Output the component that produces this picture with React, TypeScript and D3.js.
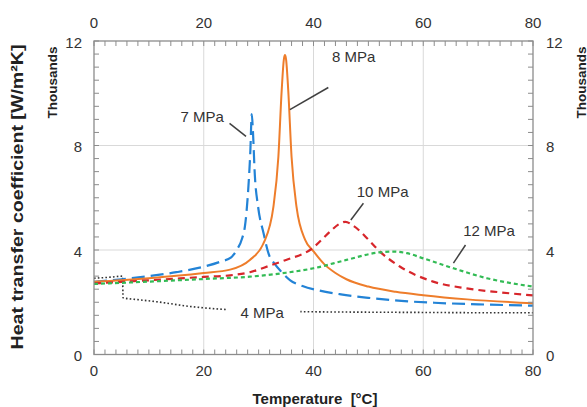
import React from "react";
import * as d3 from "d3";

const W = 587;
const H = 407;
const X0 = 94, X1 = 533, Y0 = 354.5, Y1 = 41;

const xTickMajor = [0, 20, 40, 60, 80];
const yTickMajor = [0, 4, 8, 12];
const xGrid = [20, 40, 60];
const yGrid = [4, 8];

// temperature [°C] and heat transfer coefficient [thousand W/m²K]
const t4 = [0, 3, 5.2, 5.3, 8, 11.4, 17.5, 23.5, 30, 38, 50, 60, 70, 80];
const v4 = [2.92, 2.96, 3.0, 2.17, 2.1, 2.02, 1.84, 1.73, 1.68, 1.64, 1.62, 1.61, 1.6, 1.6];

const t7 = [0, 5, 10, 15, 20, 23, 25, 26, 27, 27.5, 28.1, 28.5, 28.75, 28.95, 29.3, 29.9, 30.9, 31.8, 33, 34, 35.7, 38, 41, 45, 50, 56, 62, 70, 80];
const v7 = [2.78, 2.88, 3.0, 3.15, 3.36, 3.55, 3.72, 4.0, 4.45, 4.9, 6.3, 7.83, 9.2, 8.6, 6.9, 5.66, 4.64, 3.87, 3.45, 3.2, 2.85, 2.62, 2.45, 2.3, 2.17, 2.05, 1.98, 1.92, 1.87];

const t8 = [0, 5, 10, 15, 20, 24.8, 28.4, 30.9, 32.7, 33.6, 34.2, 34.6, 34.8, 35.0, 35.4, 36.0, 36.9, 38.5, 40, 42, 44, 46, 50, 55, 60, 68, 80];
const v8 = [2.78, 2.84, 2.92, 3.01, 3.12, 3.25, 3.62, 4.26, 5.66, 7.57, 10.1, 11.3, 11.46, 11.3, 10.1, 7.57, 5.66, 4.38, 3.95, 3.45, 3.12, 2.88, 2.6, 2.4, 2.27, 2.11, 1.96];

const t10 = [0, 10, 20, 24.8, 28.4, 32, 35, 39.5, 43, 44.5, 45.8, 47.3, 50, 51.8, 55.8, 61.8, 67.9, 74, 80];
const v10 = [2.72, 2.84, 2.97, 3.03, 3.15, 3.4, 3.62, 4.02, 4.7, 4.97, 5.08, 4.92, 4.4, 4.0, 3.36, 2.79, 2.53, 2.38, 2.26];

const t12 = [0, 10, 20, 28.4, 35, 40, 46, 52, 54.5, 57, 60, 65.5, 71.6, 80];
const v12 = [2.7, 2.79, 2.89, 2.98, 3.13, 3.3, 3.62, 3.91, 3.94, 3.88, 3.68, 3.3, 2.92, 2.6];

const seriesNames = ["4 MPa", "7 MPa", "8 MPa", "10 MPa", "12 MPa"];

const FONT = "'Liberation Sans', Arial, Helvetica, sans-serif";

export default function App() {
  const x = d3.scaleLinear().domain([0, 80]).range([X0, X1]);
  const y = d3.scaleLinear().domain([0, 12]).range([Y0, Y1]);

  const mk = (ts: number[], vs: number[]) => ts.map((t, i) => [t, vs[i]] as [number, number]);
  const line = d3
    .line<[number, number]>()
    .x((d) => x(d[0]))
    .y((d) => y(d[1]))
    .curve(d3.curveMonotoneX);

  const series = [
    { name: seriesNames[0], data: mk(t4, v4), color: "#333333", width: 1.6, dash: "1.6,2.2" },
    { name: seriesNames[1], data: mk(t7, v7), color: "#2383d6", width: 2.2, dash: "13,6" },
    { name: seriesNames[2], data: mk(t8, v8), color: "#ee7d2b", width: 2, dash: "" },
    { name: seriesNames[3], data: mk(t10, v10), color: "#d7262b", width: 2.2, dash: "7,5" },
    { name: seriesNames[4], data: mk(t12, v12), color: "#33bb55", width: 2.2, dash: "4,3" },
  ];

  const xMinor = d3.range(0, 80.01, 2);
  const yMinor = d3.range(0, 12.01, 0.5);
  const tl = 5;
  const axisColor = "#8c8c8c";
  const txt = "#333";

  // label positions (in data units) with leader lines
  const labels = [
    { name: seriesNames[1], lx: 19.7, ly: 9.1, from: [24.7, 8.85], to: [27.7, 8.35] },
    { name: seriesNames[2], lx: 47.3, ly: 11.4, from: [42.7, 10.22], to: [35.7, 9.37] },
    { name: seriesNames[3], lx: 52.6, ly: 6.24, from: [49.1, 5.79], to: [46.8, 5.15] },
    { name: seriesNames[4], lx: 72, ly: 4.76, from: [67.7, 4.19], to: [65.5, 3.5] },
  ];

  return (
    <svg
      width={W}
      height={H}
      style={{ position: "absolute", left: 0, top: 0, background: "#fff" }}
      fontFamily={FONT}
    >
      <rect x={0} y={0} width={W} height={H} fill="#fff" />
      {/* grid */}
      {xGrid.map((g) => (
        <line key={"gx" + g} x1={x(g)} x2={x(g)} y1={Y1} y2={Y0} stroke="#d9d9d9" strokeWidth={1} />
      ))}
      {yGrid.map((g) => (
        <line key={"gy" + g} x1={X0} x2={X1} y1={y(g)} y2={y(g)} stroke="#d9d9d9" strokeWidth={1} />
      ))}

      {/* series */}
      {series.map((s) => (
        <path
          key={s.name}
          d={line(s.data) || ""}
          fill="none"
          stroke={s.color}
          strokeWidth={s.width}
          strokeDasharray={s.dash || undefined}
        />
      ))}

      {/* frame */}
      <rect x={X0} y={Y1} width={X1 - X0} height={Y0 - Y1} fill="none" stroke={axisColor} strokeWidth={1.3} />
      {xMinor.map((t) => (
        <g key={"xt" + t}>
          <line x1={x(t)} x2={x(t)} y1={Y0} y2={Y0 - tl} stroke={axisColor} strokeWidth={1} />
          <line x1={x(t)} x2={x(t)} y1={Y1} y2={Y1 + tl} stroke={axisColor} strokeWidth={1} />
        </g>
      ))}
      {yMinor.map((t) => (
        <g key={"yt" + t}>
          <line x1={X0} x2={X0 + tl} y1={y(t)} y2={y(t)} stroke={axisColor} strokeWidth={1} />
          <line x1={X1} x2={X1 - tl} y1={y(t)} y2={y(t)} stroke={axisColor} strokeWidth={1} />
        </g>
      ))}

      {/* tick labels */}
      {xTickMajor.map((t) => (
        <g key={"xl" + t} fontSize={15} fill={txt} textAnchor="middle">
          <text x={x(t)} y={Y0 + 16} dominantBaseline="central">{t}</text>
          <text x={x(t)} y={Y1 - 19} dominantBaseline="central">{t}</text>
        </g>
      ))}
      {yTickMajor.map((t) => (
        <g key={"yl" + t} fontSize={15} fill={txt}>
          <text x={X0 - 12} y={y(t) + 1} textAnchor="end" dominantBaseline="central">{t}</text>
          <text x={X1 + 13} y={y(t) + 1} textAnchor="start" dominantBaseline="central">{t}</text>
        </g>
      ))}

      {/* axis titles */}
      <text
        transform={`translate(17,197) rotate(-90)`}
        textAnchor="middle"
        dominantBaseline="central"
        fontWeight="bold"
        fontSize={16}
        fill="#222"
        textLength={305}
        lengthAdjust="spacingAndGlyphs"
      >
        Heat transfer coefficient [W/m²K]
      </text>
      <text
        transform={`translate(52,82.5) rotate(-90)`}
        textAnchor="middle"
        dominantBaseline="central"
        fontWeight="bold"
        fontSize={13}
        fill="#222"
        textLength={72}
        lengthAdjust="spacingAndGlyphs"
      >
        Thousands
      </text>
      <text
        transform={`translate(581,82.5) rotate(-90)`}
        textAnchor="middle"
        dominantBaseline="central"
        fontWeight="bold"
        fontSize={13}
        fill="#222"
        textLength={72}
        lengthAdjust="spacingAndGlyphs"
      >
        Thousands
      </text>
      <text x={315} y={398} textAnchor="middle" dominantBaseline="central" fontWeight="bold" fontSize={15} fill="#222">
        Temperature {"\u00a0"}[°C]
      </text>

      {/* series labels */}
      <rect x={x(24.1)} y={y(1.64) - 10} width={x(37.6) - x(24.1)} height={20} fill="#fff" />
      <text x={x(30.65)} y={y(1.64) + 1} textAnchor="middle" dominantBaseline="central" fontSize={15} fill={txt}>
        {seriesNames[0]}
      </text>
      {labels.map((l) => (
        <g key={"lab" + l.name}>
          <line x1={x(l.from[0])} y1={y(l.from[1])} x2={x(l.to[0])} y2={y(l.to[1])} stroke="#404040" strokeWidth={1.5} />
          <text x={x(l.lx)} y={y(l.ly)} textAnchor="middle" dominantBaseline="central" fontSize={15} fill={txt}>
            {l.name}
          </text>
        </g>
      ))}
    </svg>
  );
}
